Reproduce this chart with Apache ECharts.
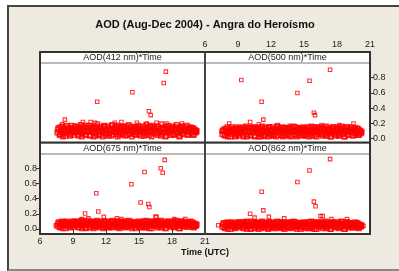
<!DOCTYPE html>
<html>
<head>
<meta charset="utf-8">
<script src="https://cdn.jsdelivr.net/npm/echarts@6/dist/echarts.min.js"></script>
<style>
  html, body { margin: 0; padding: 0; background: #fff; }
  #frame { position: absolute; left: 7px; top: 5px; width: 400px; height: 262px;
           background: #EEEAE0; border-left: 2px solid #444; border-top: 2px solid #444;
           border-bottom: 2px solid #888; }
  #chart { position: absolute; left: 0; top: 0; width: 399px; height: 271px; }
</style>
</head>
<body>
<div id="frame"></div>
<div id="chart"></div>
<script>
// tick labels
const xTicks = [6, 9, 12, 15, 18, 21];
const yTicks = [0, 0.2, 0.4, 0.6, 0.8];

// measurement times (UTC hours) of the dense band, shared by all four wavelengths
const bandTime = [
  7.58, 7.7, 7.83, 7.91, 8.04, 8.13, 8.26, 8.34, 8.47, 8.55, 8.68, 8.79, 8.88, 9.0,
  9.09, 9.22, 9.3, 9.43, 9.52, 9.64, 9.73, 9.85, 9.96, 10.05, 10.17, 10.26, 10.38, 10.47,
  10.59, 10.68, 10.8, 10.91, 11.0, 11.12, 11.21, 11.33, 11.42, 11.54, 11.63, 11.75, 11.84, 11.96,
  12.05, 12.17, 12.28, 12.37, 12.49, 12.58, 12.7, 12.79, 12.91, 13.02, 13.11, 13.23, 13.32, 13.44,
  13.53, 13.65, 13.74, 13.86, 13.97, 14.06, 14.18, 14.27, 14.39, 14.48, 14.6, 14.71, 14.8, 14.92,
  15.01, 15.13, 15.22, 15.34, 15.45, 15.54, 15.66, 15.75, 15.87, 15.96, 16.08, 16.19, 16.28, 16.4,
  16.49, 16.61, 16.7, 16.82, 16.93, 17.02, 17.14, 17.23, 17.35, 17.44, 17.56, 17.67, 17.76, 17.88,
  17.97, 18.09, 18.18, 18.3, 18.41, 18.5, 18.62, 18.71, 18.83, 18.92, 19.04, 19.15, 19.24, 19.36,
  19.45, 19.57, 19.66, 19.78, 19.89, 19.98, 20.1, 20.19
];
const bandTime2 = [
  7.64, 7.77, 7.87, 7.98, 8.08, 8.2, 8.3, 8.41, 8.51, 8.62, 8.73, 8.83, 8.95, 9.05,
  9.16, 9.26, 9.37, 9.48, 9.58, 9.69, 9.8, 9.9, 10.01, 10.11, 10.22, 10.32, 10.43, 10.53,
  10.64, 10.75, 10.86, 10.96, 11.07, 11.17, 11.28, 11.38, 11.49, 11.59, 11.7, 11.8, 11.91, 12.01,
  12.12, 12.23, 12.33, 12.44, 12.54, 12.65, 12.75, 12.86, 12.97, 13.07, 13.18, 13.28, 13.39, 13.49,
  13.6, 13.7, 13.81, 13.92, 14.02, 14.13, 14.23, 14.34, 14.44, 14.55, 14.66, 14.76, 14.87, 14.97,
  15.08, 15.18, 15.29, 15.4, 15.5, 15.61, 15.71, 15.82, 15.92, 16.03, 16.14, 16.24, 16.35, 16.45,
  16.56, 16.66, 16.77, 16.88, 16.98, 17.09, 17.19, 17.3, 17.4, 17.51, 17.62, 17.72, 17.83, 17.93,
  18.04, 18.14, 18.25, 18.36, 18.46, 18.57, 18.67, 18.78, 18.88, 18.99, 19.1, 19.2, 19.31, 19.41,
  19.52, 19.62, 19.73, 19.84, 19.94, 20.05, 20.15, 20.24
];

const aod412 = [
  0.08, 0.14, 0.05, 0.11, 0.16, 0.07, 0.12, 0.04, 0.15, 0.09, 0.13, 0.06, 0.17, 0.1,
  0.05, 0.13, 0.09, 0.16, 0.04, 0.12, 0.18, 0.07, 0.11, 0.15, 0.06, 0.14, 0.09, 0.17,
  0.05, 0.12, 0.16, 0.08, 0.14, 0.04, 0.19, 0.1, 0.06, 0.15, 0.12, 0.08, 0.17, 0.05,
  0.11, 0.16, 0.07, 0.13, 0.04, 0.18, 0.09, 0.14, 0.06, 0.12, 0.17, 0.05, 0.1, 0.15,
  0.07, 0.13, 0.04, 0.16, 0.1, 0.18, 0.06, 0.12, 0.15, 0.08, 0.14, 0.05, 0.11, 0.17,
  0.06, 0.13, 0.09, 0.16, 0.04, 0.12, 0.18, 0.08, 0.15, 0.05, 0.11, 0.17, 0.07, 0.14,
  0.1, 0.16, 0.05, 0.13, 0.08, 0.19, 0.06, 0.12, 0.15, 0.04, 0.11, 0.17, 0.07, 0.14,
  0.09, 0.16, 0.05, 0.12, 0.18, 0.07, 0.14, 0.04, 0.11, 0.16, 0.06, 0.13, 0.09, 0.17,
  0.05, 0.12, 0.15, 0.08, 0.14, 0.06, 0.11, 0.09
];
const aod412b = [
  0.12, 0.06, 0.15, 0.09, 0.03, 0.13, 0.1, 0.17, 0.07, 0.12, 0.04, 0.14, 0.08, 0.13,
  0.16, 0.08, 0.12, 0.06, 0.14, 0.1, 0.03, 0.15, 0.09, 0.05, 0.17, 0.1, 0.13, 0.04,
  0.14, 0.09, 0.03, 0.13, 0.07, 0.16, 0.11, 0.05, 0.14, 0.09, 0.03, 0.16, 0.12, 0.07,
  0.15, 0.04, 0.12, 0.09, 0.17, 0.06, 0.13, 0.1, 0.16, 0.03, 0.08, 0.14, 0.11, 0.06,
  0.16, 0.09, 0.14, 0.05, 0.12, 0.07, 0.16, 0.03, 0.1, 0.13, 0.06, 0.15, 0.08, 0.12,
  0.14, 0.04, 0.11, 0.07, 0.15, 0.09, 0.05, 0.13, 0.1, 0.16, 0.03, 0.12, 0.15, 0.08,
  0.13, 0.07, 0.16, 0.1, 0.04, 0.12, 0.14, 0.08, 0.03, 0.13, 0.16, 0.09, 0.12, 0.05,
  0.14, 0.06, 0.12, 0.15, 0.08, 0.11, 0.03, 0.13, 0.16, 0.07, 0.1, 0.15, 0.12, 0.06,
  0.13, 0.08, 0.1, 0.14, 0.05, 0.12, 0.08, 0.1
];
const aod500 = [
  0.06, 0.12, 0.04, 0.1, 0.15, 0.07, 0.11, 0.03, 0.13, 0.08, 0.12, 0.05, 0.15, 0.09,
  0.04, 0.12, 0.08, 0.15, 0.03, 0.11, 0.16, 0.06, 0.1, 0.14, 0.05, 0.13, 0.08, 0.15,
  0.04, 0.11, 0.15, 0.07, 0.13, 0.03, 0.16, 0.09, 0.05, 0.14, 0.11, 0.07, 0.15, 0.04,
  0.1, 0.15, 0.06, 0.12, 0.03, 0.16, 0.08, 0.13, 0.05, 0.11, 0.15, 0.04, 0.09, 0.14,
  0.06, 0.12, 0.03, 0.15, 0.09, 0.16, 0.05, 0.11, 0.14, 0.07, 0.13, 0.04, 0.1, 0.15,
  0.05, 0.12, 0.08, 0.15, 0.03, 0.11, 0.16, 0.07, 0.14, 0.04, 0.1, 0.15, 0.06, 0.13,
  0.09, 0.15, 0.04, 0.12, 0.07, 0.16, 0.05, 0.11, 0.14, 0.03, 0.1, 0.15, 0.06, 0.13,
  0.08, 0.15, 0.04, 0.11, 0.16, 0.06, 0.13, 0.03, 0.1, 0.15, 0.05, 0.12, 0.08, 0.15,
  0.04, 0.11, 0.14, 0.07, 0.13, 0.05, 0.1, 0.08
];
const aod500b = [
  0.1, 0.05, 0.13, 0.08, 0.03, 0.12, 0.09, 0.15, 0.06, 0.11, 0.03, 0.13, 0.07, 0.12,
  0.14, 0.07, 0.11, 0.05, 0.13, 0.09, 0.03, 0.14, 0.08, 0.04, 0.15, 0.09, 0.12, 0.03,
  0.13, 0.08, 0.03, 0.12, 0.06, 0.15, 0.1, 0.04, 0.13, 0.08, 0.03, 0.15, 0.11, 0.06,
  0.13, 0.04, 0.11, 0.08, 0.15, 0.05, 0.12, 0.09, 0.14, 0.03, 0.07, 0.13, 0.1, 0.05,
  0.14, 0.08, 0.13, 0.04, 0.11, 0.06, 0.15, 0.03, 0.09, 0.12, 0.05, 0.14, 0.07, 0.11,
  0.13, 0.04, 0.1, 0.06, 0.14, 0.08, 0.04, 0.12, 0.09, 0.15, 0.03, 0.11, 0.14, 0.07,
  0.12, 0.06, 0.15, 0.09, 0.04, 0.11, 0.13, 0.07, 0.03, 0.12, 0.15, 0.08, 0.11, 0.04,
  0.13, 0.05, 0.11, 0.14, 0.07, 0.1, 0.03, 0.12, 0.15, 0.06, 0.09, 0.14, 0.11, 0.05,
  0.12, 0.07, 0.09, 0.13, 0.05, 0.11, 0.07, 0.09
];
const aod675 = [
  0.04, 0.09, 0.02, 0.07, 0.1, 0.05, 0.08, 0.01, 0.09, 0.06, 0.03, 0.08, 0.05, 0.1,
  0.03, 0.08, 0.06, 0.1, 0.02, 0.07, 0.11, 0.04, 0.09, 0.05, 0.01, 0.08, 0.06, 0.1,
  0.03, 0.07, 0.1, 0.05, 0.09, 0.02, 0.11, 0.06, 0.04, 0.09, 0.07, 0.01, 0.1, 0.03,
  0.07, 0.1, 0.04, 0.08, 0.02, 0.11, 0.05, 0.09, 0.03, 0.07, 0.1, 0.01, 0.06, 0.09,
  0.04, 0.08, 0.02, 0.1, 0.06, 0.11, 0.03, 0.07, 0.09, 0.05, 0.08, 0.01, 0.06, 0.1,
  0.03, 0.08, 0.05, 0.1, 0.02, 0.07, 0.11, 0.04, 0.09, 0.01, 0.06, 0.1, 0.04, 0.08,
  0.06, 0.1, 0.02, 0.08, 0.05, 0.11, 0.03, 0.07, 0.09, 0.01, 0.06, 0.1, 0.04, 0.08,
  0.05, 0.1, 0.02, 0.07, 0.11, 0.04, 0.08, 0.01, 0.06, 0.1, 0.03, 0.08, 0.05, 0.09,
  0.03, 0.07, 0.1, 0.04, 0.08, 0.02, 0.06, 0.05
];
const aod675b = [
  0.07, 0.03, 0.09, 0.05, 0.01, 0.08, 0.06, 0.1, 0.04, 0.07, 0.02, 0.09, 0.05, 0.08,
  0.1, 0.05, 0.08, 0.03, 0.09, 0.06, 0.01, 0.1, 0.05, 0.02, 0.11, 0.06, 0.08, 0.02,
  0.09, 0.05, 0.01, 0.08, 0.04, 0.1, 0.07, 0.03, 0.09, 0.05, 0.02, 0.1, 0.07, 0.04,
  0.09, 0.02, 0.07, 0.05, 0.1, 0.03, 0.08, 0.06, 0.1, 0.02, 0.04, 0.09, 0.07, 0.03,
  0.1, 0.05, 0.09, 0.03, 0.07, 0.04, 0.1, 0.01, 0.06, 0.08, 0.03, 0.09, 0.05, 0.07,
  0.09, 0.02, 0.07, 0.04, 0.1, 0.05, 0.02, 0.08, 0.06, 0.1, 0.01, 0.07, 0.09, 0.05,
  0.08, 0.04, 0.1, 0.06, 0.02, 0.07, 0.09, 0.05, 0.01, 0.08, 0.1, 0.05, 0.07, 0.03,
  0.09, 0.03, 0.07, 0.1, 0.05, 0.07, 0.01, 0.08, 0.1, 0.04, 0.06, 0.09, 0.07, 0.03,
  0.08, 0.05, 0.06, 0.09, 0.03, 0.07, 0.04, 0.06
];
const aod862 = [
  0.03, 0.08, 0.01, 0.06, 0.09, 0.04, 0.07, 0.0, 0.08, 0.05, 0.02, 0.07, 0.04, 0.09,
  0.02, 0.07, 0.05, 0.09, 0.01, 0.06, 0.1, 0.03, 0.08, 0.04, 0.0, 0.07, 0.05, 0.09,
  0.02, 0.06, 0.09, 0.04, 0.08, 0.01, 0.1, 0.05, 0.03, 0.08, 0.06, 0.0, 0.09, 0.02,
  0.06, 0.09, 0.03, 0.07, 0.01, 0.1, 0.04, 0.08, 0.02, 0.06, 0.09, 0.0, 0.05, 0.08,
  0.03, 0.07, 0.01, 0.09, 0.05, 0.1, 0.02, 0.06, 0.08, 0.04, 0.07, 0.0, 0.05, 0.09,
  0.02, 0.07, 0.04, 0.09, 0.01, 0.06, 0.1, 0.03, 0.08, 0.0, 0.05, 0.09, 0.03, 0.07,
  0.05, 0.09, 0.01, 0.07, 0.04, 0.1, 0.02, 0.06, 0.08, 0.0, 0.05, 0.09, 0.03, 0.07,
  0.04, 0.09, 0.01, 0.06, 0.1, 0.03, 0.07, 0.0, 0.05, 0.09, 0.02, 0.07, 0.04, 0.08,
  0.02, 0.06, 0.09, 0.03, 0.07, 0.01, 0.05, 0.04
];
const aod862b = [
  0.06, 0.02, 0.08, 0.04, 0.0, 0.07, 0.05, 0.09, 0.03, 0.06, 0.01, 0.08, 0.04, 0.07,
  0.09, 0.04, 0.07, 0.02, 0.08, 0.05, 0.0, 0.09, 0.04, 0.01, 0.1, 0.05, 0.07, 0.01,
  0.08, 0.04, 0.0, 0.07, 0.03, 0.09, 0.06, 0.02, 0.08, 0.04, 0.01, 0.09, 0.06, 0.03,
  0.08, 0.01, 0.06, 0.04, 0.09, 0.02, 0.07, 0.05, 0.09, 0.01, 0.03, 0.08, 0.06, 0.02,
  0.09, 0.04, 0.08, 0.02, 0.06, 0.03, 0.09, 0.0, 0.05, 0.07, 0.02, 0.08, 0.04, 0.06,
  0.08, 0.01, 0.06, 0.03, 0.09, 0.04, 0.01, 0.07, 0.05, 0.09, 0.0, 0.06, 0.08, 0.04,
  0.07, 0.03, 0.09, 0.05, 0.01, 0.06, 0.08, 0.04, 0.0, 0.07, 0.09, 0.04, 0.06, 0.02,
  0.08, 0.02, 0.06, 0.09, 0.04, 0.06, 0.0, 0.07, 0.09, 0.03, 0.05, 0.08, 0.06, 0.02,
  0.07, 0.04, 0.05, 0.08, 0.02, 0.06, 0.03, 0.05
];

// points outside the main band [time, AOD]
const extra412 = [[17.44, 0.88], [17.25, 0.73], [14.4, 0.61], [11.2, 0.485], [15.9, 0.36], [16.06, 0.31],
  [8.26, 0.25], [9.9, 0.22], [10.6, 0.22], [11.0, 0.21], [12.8, 0.21], [13.4, 0.22], [14.8, 0.21],
  [15.7, 0.2], [16.6, 0.21], [17.5, 0.2], [18.9, 0.2], [8.0, 0.19]];
const extra500 = [[17.37, 0.905], [9.3, 0.77], [15.5, 0.76], [14.4, 0.6], [11.15, 0.485], [15.9, 0.34],
  [16.0, 0.31], [11.3, 0.25], [10.1, 0.22], [8.2, 0.2], [19.5, 0.2], [7.5, 0.1], [16.6, 0.18],
  [12.6, 0.18], [13.7, 0.17], [18.2, 0.18], [10.9, 0.19]];
const extra675 = [[17.34, 0.91], [16.98, 0.8], [17.16, 0.74], [15.5, 0.75], [14.3, 0.59], [11.12, 0.47],
  [15.15, 0.35], [15.85, 0.33], [15.94, 0.29], [11.3, 0.23], [10.1, 0.205], [11.8, 0.16], [16.5, 0.16],
  [16.6, 0.16], [7.44, 0.05], [9.8, 0.13], [10.4, 0.14], [13.0, 0.14], [13.4, 0.13], [18.2, 0.13], [19.2, 0.13]];
const extra862 = [[17.37, 0.92], [15.5, 0.77], [14.4, 0.62], [11.15, 0.49], [15.9, 0.36], [16.05, 0.3],
  [11.3, 0.245], [10.1, 0.2], [11.8, 0.16], [16.5, 0.17], [16.7, 0.17], [7.2, 0.05], [20.4, 0.04],
  [13.2, 0.14], [17.5, 0.13], [18.9, 0.13], [10.5, 0.15]];

const panelNames = ['AOD(412 nm)*Time', 'AOD(500 nm)*Time', 'AOD(675 nm)*Time', 'AOD(862 nm)*Time'];
const bands = [aod412, aod500, aod675, aod862];
const bands2 = [aod412b, aod500b, aod675b, aod862b];
const extras = [extra412, extra500, extra675, extra862];

// layout (pixels)
const L = 40, M = 205, R = 370;
const rows = [
  { strip: 52, top: 63, bottom: 142, ymin: -0.043, ymax: 0.993 },
  { strip: 143, top: 154, bottom: 234, ymin: -0.066, ymax: 0.988 }
];
const FONT = '"Liberation Sans", Arial, sans-serif';

var chart = echarts.init(document.getElementById('chart'), null, { renderer: 'canvas' });

var grids = [], xAxes = [], yAxes = [], series = [], graphics = [];

function zip(times, vals) {
  return times.map(function (t, k) { return [t, vals[k]]; });
}

panelNames.forEach(function (name, i) {
  var row = rows[Math.floor(i / 2)];
  var left = (i % 2 === 0) ? L : M;
  var width = (i % 2 === 0) ? M - L : R - M;

  grids.push({
    left: left, top: row.top, width: width, height: row.bottom - row.top,
    show: true, backgroundColor: '#fff', borderWidth: 0
  });

  var showX = (i === 1 || i === 2);
  xAxes.push({
    gridIndex: i, type: 'value', min: 6, max: 21, interval: 3,
    show: showX,
    position: i === 1 ? 'top' : 'bottom',
    offset: i === 1 ? 11 : 0,
    axisLine: { show: false },
    axisTick: { show: true, length: 4, lineStyle: { color: '#333' } },
    axisLabel: { fontSize: 9, fontFamily: FONT, color: '#222', margin: 3 },
    splitLine: { show: false }
  });

  var showY = (i === 1 || i === 2);
  yAxes.push({
    gridIndex: i, type: 'value', min: row.ymin, max: row.ymax,
    show: showY,
    position: i === 1 ? 'right' : 'left',
    axisLine: { show: false },
    axisTick: { show: true, length: 4, customValues: yTicks, lineStyle: { color: '#333' } },
    axisLabel: {
      fontSize: 9, fontFamily: FONT, color: '#222', margin: 3,
      customValues: yTicks,
      formatter: function (v) { return v.toFixed(1); }
    },
    splitLine: { show: false }
  });

  // dense band
  series.push({
    type: 'scatter', xAxisIndex: i, yAxisIndex: i,
    symbol: 'rect', symbolSize: 4.5,
    itemStyle: { color: 'rgba(0,0,0,0)', borderColor: '#ff0000', borderWidth: 1.5 },
    data: zip(bandTime, bands[i]).concat(zip(bandTime2, bands2[i])),
    animation: false, silent: true
  });
  // scattered points
  series.push({
    type: 'scatter', xAxisIndex: i, yAxisIndex: i,
    symbol: 'rect', symbolSize: 3.5,
    itemStyle: { color: 'rgba(0,0,0,0)', borderColor: '#ff0000', borderWidth: 1.1 },
    data: extras[i], animation: false, silent: true
  });

  // strip header
  graphics.push({
    type: 'rect', z: 50,
    shape: { x: left, y: row.strip, width: width, height: row.top - row.strip },
    style: { fill: '#fff', stroke: '#777', lineWidth: 1 }
  });
  graphics.push({
    type: 'text', z: 51,
    style: {
      text: name, x: left + width / 2, y: row.strip + (row.top - row.strip) / 2 + 0.5,
      textAlign: 'center', textVerticalAlign: 'middle',
      font: '9px ' + FONT, fill: '#222'
    }
  });
});

// outer block border and dividers
graphics.push({ type: 'rect', z: 60, shape: { x: L, y: 52, width: R - L, height: 234 - 52 },
  style: { fill: 'none', stroke: '#333', lineWidth: 2 } });
graphics.push({ type: 'line', z: 60, shape: { x1: M, y1: 52, x2: M, y2: 234 },
  style: { stroke: '#444', lineWidth: 2 } });
graphics.push({ type: 'line', z: 60, shape: { x1: L, y1: 142.5, x2: R, y2: 142.5 },
  style: { stroke: '#333', lineWidth: 2 } });

// title and axis name
graphics.push({ type: 'text', z: 60, style: {
  text: 'AOD (Aug-Dec 2004) - Angra do Heroísmo', x: 205, y: 25,
  textAlign: 'center', textVerticalAlign: 'middle', font: 'bold 11px ' + FONT, fill: '#111' } });
graphics.push({ type: 'text', z: 60, style: {
  text: 'Time (UTC)', x: 205, y: 253,
  textAlign: 'center', textVerticalAlign: 'middle', font: 'bold 9px ' + FONT, fill: '#111' } });

var option = {
  animation: false,
  backgroundColor: 'transparent',
  grid: grids,
  xAxis: xAxes,
  yAxis: yAxes,
  series: series,
  graphic: graphics
};

chart.setOption(option);
</script>
</body>
</html>
